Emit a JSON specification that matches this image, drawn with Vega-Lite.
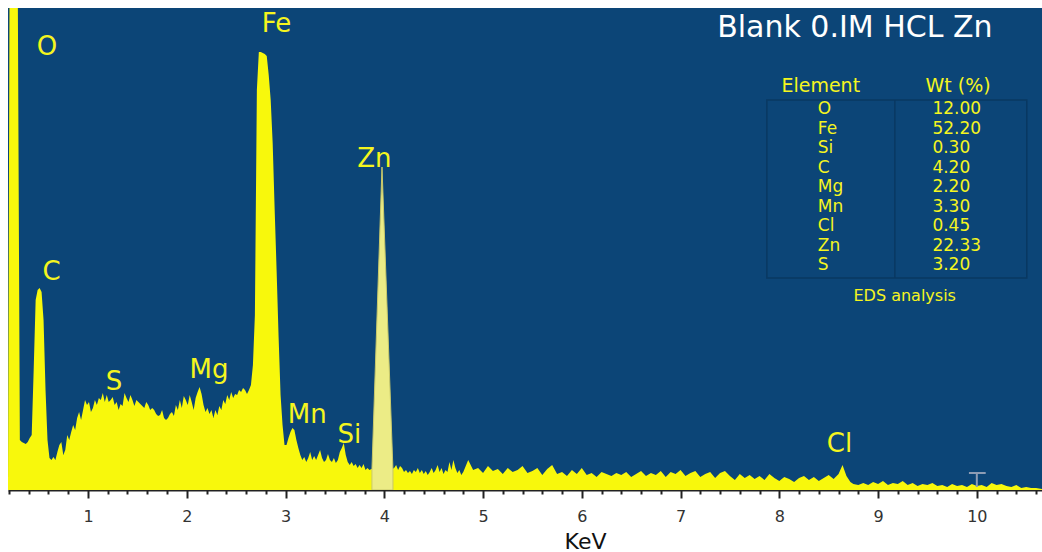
{
  "$schema": "https://vega.github.io/schema/vega-lite/v6.json",
  "width": 1034,
  "height": 482,
  "autosize": {"type": "none"},
  "padding": {"left": 8, "top": 8, "right": 0, "bottom": 62},
  "background": "#ffffff",
  "config": {"view": {"fill": "#0c4577", "stroke": null}},
  "datasets": {
    "spectrum": [
      {"kev": 0.19, "counts": 4}, {"kev": 0.205, "counts": 482}, {"kev": 0.29, "counts": 482}, {"kev": 0.31, "counts": 50},
      {"kev": 0.33, "counts": 48}, {"kev": 0.35, "counts": 47}, {"kev": 0.37, "counts": 46}, {"kev": 0.39, "counts": 48},
      {"kev": 0.41, "counts": 52}, {"kev": 0.43, "counts": 55}, {"kev": 0.45, "counts": 120}, {"kev": 0.47, "counts": 190},
      {"kev": 0.49, "counts": 200}, {"kev": 0.51, "counts": 202}, {"kev": 0.53, "counts": 198}, {"kev": 0.55, "counts": 170},
      {"kev": 0.57, "counts": 100}, {"kev": 0.59, "counts": 50}, {"kev": 0.61, "counts": 32}, {"kev": 0.63, "counts": 30},
      {"kev": 0.65, "counts": 33}, {"kev": 0.67, "counts": 30}, {"kev": 0.69, "counts": 38}, {"kev": 0.71, "counts": 45},
      {"kev": 0.73, "counts": 48}, {"kev": 0.75, "counts": 35}, {"kev": 0.77, "counts": 40}, {"kev": 0.79, "counts": 55},
      {"kev": 0.81, "counts": 50}, {"kev": 0.83, "counts": 58}, {"kev": 0.85, "counts": 65}, {"kev": 0.87, "counts": 60},
      {"kev": 0.89, "counts": 72}, {"kev": 0.91, "counts": 78}, {"kev": 0.93, "counts": 70}, {"kev": 0.95, "counts": 80},
      {"kev": 0.97, "counts": 90}, {"kev": 0.99, "counts": 85}, {"kev": 1.01, "counts": 88}, {"kev": 1.03, "counts": 78},
      {"kev": 1.05, "counts": 82}, {"kev": 1.07, "counts": 90}, {"kev": 1.09, "counts": 85}, {"kev": 1.11, "counts": 92},
      {"kev": 1.13, "counts": 90}, {"kev": 1.15, "counts": 97}, {"kev": 1.17, "counts": 88}, {"kev": 1.19, "counts": 95},
      {"kev": 1.21, "counts": 88}, {"kev": 1.23, "counts": 90}, {"kev": 1.25, "counts": 93}, {"kev": 1.27, "counts": 85},
      {"kev": 1.29, "counts": 88}, {"kev": 1.31, "counts": 80}, {"kev": 1.33, "counts": 86}, {"kev": 1.35, "counts": 84},
      {"kev": 1.37, "counts": 97}, {"kev": 1.39, "counts": 92}, {"kev": 1.41, "counts": 88}, {"kev": 1.43, "counts": 95},
      {"kev": 1.45, "counts": 90}, {"kev": 1.47, "counts": 84}, {"kev": 1.49, "counts": 90}, {"kev": 1.51, "counts": 88},
      {"kev": 1.53, "counts": 86}, {"kev": 1.55, "counts": 84}, {"kev": 1.57, "counts": 82}, {"kev": 1.59, "counts": 88},
      {"kev": 1.61, "counts": 85}, {"kev": 1.63, "counts": 80}, {"kev": 1.65, "counts": 82}, {"kev": 1.67, "counts": 80},
      {"kev": 1.69, "counts": 76}, {"kev": 1.71, "counts": 74}, {"kev": 1.73, "counts": 75}, {"kev": 1.75, "counts": 80},
      {"kev": 1.77, "counts": 72}, {"kev": 1.79, "counts": 70}, {"kev": 1.81, "counts": 72}, {"kev": 1.83, "counts": 76},
      {"kev": 1.85, "counts": 78}, {"kev": 1.87, "counts": 74}, {"kev": 1.89, "counts": 85}, {"kev": 1.91, "counts": 80},
      {"kev": 1.93, "counts": 90}, {"kev": 1.95, "counts": 82}, {"kev": 1.97, "counts": 94}, {"kev": 1.99, "counts": 90},
      {"kev": 2.01, "counts": 85}, {"kev": 2.03, "counts": 95}, {"kev": 2.05, "counts": 88}, {"kev": 2.07, "counts": 80},
      {"kev": 2.09, "counts": 92}, {"kev": 2.11, "counts": 98}, {"kev": 2.13, "counts": 103}, {"kev": 2.15, "counts": 96},
      {"kev": 2.17, "counts": 85}, {"kev": 2.19, "counts": 78}, {"kev": 2.21, "counts": 82}, {"kev": 2.23, "counts": 76},
      {"kev": 2.25, "counts": 80}, {"kev": 2.27, "counts": 72}, {"kev": 2.29, "counts": 80}, {"kev": 2.31, "counts": 75},
      {"kev": 2.33, "counts": 84}, {"kev": 2.35, "counts": 80}, {"kev": 2.37, "counts": 90}, {"kev": 2.39, "counts": 86},
      {"kev": 2.41, "counts": 95}, {"kev": 2.43, "counts": 90}, {"kev": 2.45, "counts": 98}, {"kev": 2.47, "counts": 92},
      {"kev": 2.49, "counts": 96}, {"kev": 2.51, "counts": 95}, {"kev": 2.53, "counts": 100}, {"kev": 2.55, "counts": 98},
      {"kev": 2.57, "counts": 102}, {"kev": 2.59, "counts": 100}, {"kev": 2.61, "counts": 96}, {"kev": 2.63, "counts": 100},
      {"kev": 2.65, "counts": 105}, {"kev": 2.67, "counts": 125}, {"kev": 2.69, "counts": 175}, {"kev": 2.71, "counts": 400},
      {"kev": 2.73, "counts": 438}, {"kev": 2.75, "counts": 438}, {"kev": 2.77, "counts": 437}, {"kev": 2.79, "counts": 436},
      {"kev": 2.81, "counts": 434}, {"kev": 2.83, "counts": 415}, {"kev": 2.85, "counts": 390}, {"kev": 2.87, "counts": 347},
      {"kev": 2.89, "counts": 281}, {"kev": 2.91, "counts": 219}, {"kev": 2.93, "counts": 153}, {"kev": 2.95, "counts": 95},
      {"kev": 2.97, "counts": 65}, {"kev": 2.99, "counts": 45}, {"kev": 3.01, "counts": 45}, {"kev": 3.03, "counts": 52},
      {"kev": 3.05, "counts": 58}, {"kev": 3.07, "counts": 62}, {"kev": 3.09, "counts": 60}, {"kev": 3.11, "counts": 50},
      {"kev": 3.13, "counts": 42}, {"kev": 3.15, "counts": 35}, {"kev": 3.17, "counts": 30}, {"kev": 3.19, "counts": 33},
      {"kev": 3.21, "counts": 28}, {"kev": 3.23, "counts": 32}, {"kev": 3.25, "counts": 38}, {"kev": 3.27, "counts": 30},
      {"kev": 3.29, "counts": 34}, {"kev": 3.31, "counts": 30}, {"kev": 3.33, "counts": 35}, {"kev": 3.35, "counts": 40},
      {"kev": 3.37, "counts": 32}, {"kev": 3.39, "counts": 28}, {"kev": 3.41, "counts": 30}, {"kev": 3.43, "counts": 36},
      {"kev": 3.45, "counts": 30}, {"kev": 3.47, "counts": 28}, {"kev": 3.49, "counts": 32}, {"kev": 3.51, "counts": 27},
      {"kev": 3.53, "counts": 30}, {"kev": 3.55, "counts": 38}, {"kev": 3.57, "counts": 42}, {"kev": 3.59, "counts": 47},
      {"kev": 3.61, "counts": 35}, {"kev": 3.63, "counts": 28}, {"kev": 3.65, "counts": 25}, {"kev": 3.67, "counts": 28},
      {"kev": 3.69, "counts": 24}, {"kev": 3.71, "counts": 26}, {"kev": 3.73, "counts": 22}, {"kev": 3.75, "counts": 25},
      {"kev": 3.77, "counts": 22}, {"kev": 3.79, "counts": 26}, {"kev": 3.81, "counts": 20}, {"kev": 3.83, "counts": 22},
      {"kev": 3.85, "counts": 20}, {"kev": 3.87, "counts": 21}, {"kev": 3.95, "counts": 20}, {"kev": 4.05, "counts": 19},
      {"kev": 4.1, "counts": 22}, {"kev": 4.12, "counts": 25}, {"kev": 4.14, "counts": 20}, {"kev": 4.16, "counts": 24},
      {"kev": 4.18, "counts": 22}, {"kev": 4.2, "counts": 18}, {"kev": 4.22, "counts": 20}, {"kev": 4.24, "counts": 17},
      {"kev": 4.26, "counts": 19}, {"kev": 4.28, "counts": 16}, {"kev": 4.3, "counts": 20}, {"kev": 4.32, "counts": 18},
      {"kev": 4.34, "counts": 22}, {"kev": 4.36, "counts": 17}, {"kev": 4.38, "counts": 20}, {"kev": 4.4, "counts": 16},
      {"kev": 4.42, "counts": 19}, {"kev": 4.44, "counts": 15}, {"kev": 4.46, "counts": 18}, {"kev": 4.48, "counts": 22},
      {"kev": 4.5, "counts": 17}, {"kev": 4.52, "counts": 20}, {"kev": 4.54, "counts": 25}, {"kev": 4.56, "counts": 18},
      {"kev": 4.58, "counts": 22}, {"kev": 4.6, "counts": 16}, {"kev": 4.62, "counts": 20}, {"kev": 4.64, "counts": 18},
      {"kev": 4.66, "counts": 28}, {"kev": 4.68, "counts": 20}, {"kev": 4.7, "counts": 30}, {"kev": 4.72, "counts": 22},
      {"kev": 4.74, "counts": 17}, {"kev": 4.76, "counts": 20}, {"kev": 4.78, "counts": 15}, {"kev": 4.8, "counts": 18},
      {"kev": 4.85, "counts": 30}, {"kev": 4.9, "counts": 20}, {"kev": 4.95, "counts": 22}, {"kev": 5.0, "counts": 17},
      {"kev": 5.05, "counts": 24}, {"kev": 5.1, "counts": 19}, {"kev": 5.15, "counts": 21}, {"kev": 5.2, "counts": 16},
      {"kev": 5.25, "counts": 22}, {"kev": 5.3, "counts": 18}, {"kev": 5.35, "counts": 20}, {"kev": 5.4, "counts": 24},
      {"kev": 5.45, "counts": 17}, {"kev": 5.5, "counts": 19}, {"kev": 5.55, "counts": 22}, {"kev": 5.6, "counts": 15},
      {"kev": 5.65, "counts": 21}, {"kev": 5.7, "counts": 25}, {"kev": 5.75, "counts": 16}, {"kev": 5.8, "counts": 18},
      {"kev": 5.85, "counts": 14}, {"kev": 5.9, "counts": 20}, {"kev": 5.95, "counts": 16}, {"kev": 6.0, "counts": 22},
      {"kev": 6.05, "counts": 15}, {"kev": 6.1, "counts": 17}, {"kev": 6.15, "counts": 13}, {"kev": 6.2, "counts": 18},
      {"kev": 6.25, "counts": 16}, {"kev": 6.3, "counts": 14}, {"kev": 6.35, "counts": 17}, {"kev": 6.4, "counts": 15},
      {"kev": 6.45, "counts": 18}, {"kev": 6.5, "counts": 13}, {"kev": 6.55, "counts": 16}, {"kev": 6.6, "counts": 19},
      {"kev": 6.65, "counts": 14}, {"kev": 6.7, "counts": 17}, {"kev": 6.75, "counts": 15}, {"kev": 6.8, "counts": 19},
      {"kev": 6.85, "counts": 13}, {"kev": 6.9, "counts": 18}, {"kev": 6.95, "counts": 16}, {"kev": 7.0, "counts": 20},
      {"kev": 7.05, "counts": 14}, {"kev": 7.1, "counts": 17}, {"kev": 7.15, "counts": 19}, {"kev": 7.2, "counts": 13},
      {"kev": 7.25, "counts": 16}, {"kev": 7.3, "counts": 18}, {"kev": 7.35, "counts": 12}, {"kev": 7.4, "counts": 17},
      {"kev": 7.45, "counts": 19}, {"kev": 7.5, "counts": 14}, {"kev": 7.55, "counts": 10}, {"kev": 7.6, "counts": 16},
      {"kev": 7.65, "counts": 12}, {"kev": 7.7, "counts": 15}, {"kev": 7.75, "counts": 11}, {"kev": 7.8, "counts": 14},
      {"kev": 7.85, "counts": 10}, {"kev": 7.9, "counts": 16}, {"kev": 7.95, "counts": 12}, {"kev": 8.0, "counts": 9},
      {"kev": 8.05, "counts": 13}, {"kev": 8.1, "counts": 11}, {"kev": 8.15, "counts": 8}, {"kev": 8.2, "counts": 12},
      {"kev": 8.25, "counts": 14}, {"kev": 8.3, "counts": 10}, {"kev": 8.35, "counts": 13}, {"kev": 8.4, "counts": 9},
      {"kev": 8.45, "counts": 12}, {"kev": 8.5, "counts": 15}, {"kev": 8.55, "counts": 11}, {"kev": 8.6, "counts": 16},
      {"kev": 8.64, "counts": 25}, {"kev": 8.68, "counts": 14}, {"kev": 8.72, "counts": 8}, {"kev": 8.75, "counts": 6},
      {"kev": 8.8, "counts": 5}, {"kev": 8.85, "counts": 7}, {"kev": 8.9, "counts": 5}, {"kev": 8.95, "counts": 8},
      {"kev": 9.0, "counts": 6}, {"kev": 9.05, "counts": 9}, {"kev": 9.1, "counts": 5}, {"kev": 9.15, "counts": 7},
      {"kev": 9.2, "counts": 6}, {"kev": 9.25, "counts": 9}, {"kev": 9.3, "counts": 5}, {"kev": 9.35, "counts": 7},
      {"kev": 9.4, "counts": 4}, {"kev": 9.45, "counts": 6}, {"kev": 9.5, "counts": 5}, {"kev": 9.55, "counts": 7},
      {"kev": 9.6, "counts": 4}, {"kev": 9.65, "counts": 5}, {"kev": 9.7, "counts": 3}, {"kev": 9.75, "counts": 6},
      {"kev": 9.8, "counts": 4}, {"kev": 9.85, "counts": 5}, {"kev": 9.9, "counts": 3}, {"kev": 9.95, "counts": 6},
      {"kev": 10.0, "counts": 4}, {"kev": 10.05, "counts": 5}, {"kev": 10.1, "counts": 3}, {"kev": 10.15, "counts": 7},
      {"kev": 10.2, "counts": 5}, {"kev": 10.25, "counts": 6}, {"kev": 10.3, "counts": 4}, {"kev": 10.35, "counts": 3},
      {"kev": 10.4, "counts": 5}, {"kev": 10.45, "counts": 2}, {"kev": 10.5, "counts": 3}, {"kev": 10.55, "counts": 2},
      {"kev": 10.6, "counts": 2}, {"kev": 10.66, "counts": 1}
    ],
    "znpeak": [
      {"kev": 3.875, "counts": 20}, {"kev": 3.977, "counts": 323}, {"kev": 4.088, "counts": 20}
    ],
    "labels": [
      {"kev": 0.585, "counts": 435, "label": "O"},
      {"kev": 2.908, "counts": 458, "label": "Fe"},
      {"kev": 3.9, "counts": 323, "label": "Zn"},
      {"kev": 0.631, "counts": 210, "label": "C"},
      {"kev": 1.264, "counts": 100, "label": "S"},
      {"kev": 2.225, "counts": 112, "label": "Mg"},
      {"kev": 3.22, "counts": 67, "label": "Mn"},
      {"kev": 3.647, "counts": 47, "label": "Si"},
      {"kev": 8.61, "counts": 38, "label": "Cl"}
    ],
    "title": [{"kev": 8.765, "counts": 453, "label": "Blank 0.IM HCL Zn"}],
    "header": [
      {"kev": 8.42, "counts": 398, "label": "Element"},
      {"kev": 9.81, "counts": 398, "label": "Wt (%)"}
    ],
    "table": [
      {"kev": 8.39, "counts": 376, "label": "O"},
      {"kev": 8.39, "counts": 356.5, "label": "Fe"},
      {"kev": 8.39, "counts": 337, "label": "Si"},
      {"kev": 8.39, "counts": 317.5, "label": "C"},
      {"kev": 8.39, "counts": 298, "label": "Mg"},
      {"kev": 8.39, "counts": 278.5, "label": "Mn"},
      {"kev": 8.39, "counts": 259, "label": "Cl"},
      {"kev": 8.39, "counts": 239.5, "label": "Zn"},
      {"kev": 8.39, "counts": 220, "label": "S"},
      {"kev": 9.55, "counts": 376, "label": "12.00"},
      {"kev": 9.55, "counts": 356.5, "label": "52.20"},
      {"kev": 9.55, "counts": 337, "label": "0.30"},
      {"kev": 9.55, "counts": 317.5, "label": "4.20"},
      {"kev": 9.55, "counts": 298, "label": "2.20"},
      {"kev": 9.55, "counts": 278.5, "label": "3.30"},
      {"kev": 9.55, "counts": 259, "label": "0.45"},
      {"kev": 9.55, "counts": 239.5, "label": "22.33"},
      {"kev": 9.55, "counts": 220, "label": "3.20"}
    ],
    "caption": [{"kev": 9.27, "counts": 189, "label": "EDS analysis"}],
    "box": [{"kev": 7.874, "kev2": 10.506, "counts": 390, "counts2": 212}],
    "divider": [{"kev": 9.17, "counts": 390, "counts2": 212}],
    "marker": [{"kev": 10.0, "counts": 3, "counts2": 17}],
    "markercap": [{"kev": 9.92, "kev2": 10.09, "counts": 17}]
  },
  "encoding": {
    "x": {
      "field": "kev",
      "type": "quantitative",
      "scale": {"domain": [0.19, 10.66], "nice": false, "zero": false},
      "axis": {
        "title": "KeV",
        "values": [0.2,0.4,0.6,0.8,1,1.2,1.4,1.6,1.8,2,2.2,2.4,2.6,2.8,3,3.2,3.4,3.6,3.8,4,4.2,4.4,4.6,4.8,5,5.2,5.4,5.6,5.8,6,6.2,6.4,6.6,6.8,7,7.2,7.4,7.6,7.8,8,8.2,8.4,8.6,8.8,9,9.2,9.4,9.6,9.8,10,10.2,10.4,10.6],
        "labelExpr": "datum.value % 1 === 0 ? format(datum.value, 'd') : ''",
        "labelOverlap": false,
        "labelFlush": false,
        "labelBound": false,
        "grid": false,
        "domainColor": "#222222",
        "domainWidth": 2,
        "tickColor": "#222222",
        "tickWidth": 2,
        "tickSize": {"condition": {"test": "datum.value % 1 === 0", "value": 8}, "value": 4},
        "labelColor": "#333333",
        "labelFont": "DejaVu Sans",
        "labelFontSize": 16,
        "labelPadding": 10,
        "titleFont": "DejaVu Sans",
        "titleFontSize": 22,
        "titleFontWeight": "normal",
        "titleColor": "#111111",
        "titleX": 577,
        "titleY": 58,
        "titleBaseline": "alphabetic"
      }
    },
    "y": {
      "field": "counts",
      "type": "quantitative",
      "scale": {"domain": [0, 482], "nice": false, "zero": false},
      "axis": null
    }
  },
  "layer": [
    {"data": {"name": "spectrum"}, "mark": {"type": "area", "color": "#f8f80c", "interpolate": "linear", "clip": true}},
    {"data": {"name": "znpeak"}, "mark": {"type": "area", "color": "#ecec86", "stroke": "#c9c96a", "strokeWidth": 1, "clip": true}},
    {"data": {"name": "marker"}, "mark": {"type": "rule", "color": "#8d9cb4", "strokeWidth": 2}, "encoding": {"y2": {"field": "counts2"}}},
    {"data": {"name": "markercap"}, "mark": {"type": "rule", "color": "#8d9cb4", "strokeWidth": 2}, "encoding": {"x2": {"field": "kev2"}}},
    {"data": {"name": "box"}, "mark": {"type": "rect", "fill": null, "fillOpacity": 0, "stroke": "#093862", "strokeWidth": 1.5}, "encoding": {"x2": {"field": "kev2"}, "y2": {"field": "counts2"}}},
    {"data": {"name": "divider"}, "mark": {"type": "rule", "color": "#093862", "strokeWidth": 1.5}, "encoding": {"y2": {"field": "counts2"}}},
    {"data": {"name": "labels"}, "mark": {"type": "text", "font": "DejaVu Sans", "fontSize": 26, "color": "#f5f51e", "align": "center", "baseline": "alphabetic"}, "encoding": {"text": {"field": "label"}}},
    {"data": {"name": "title"}, "mark": {"type": "text", "font": "DejaVu Sans", "fontSize": 30, "color": "#ffffff", "align": "center", "baseline": "alphabetic"}, "encoding": {"text": {"field": "label"}}},
    {"data": {"name": "header"}, "mark": {"type": "text", "font": "DejaVu Sans", "fontSize": 19, "color": "#f5f51e", "align": "center", "baseline": "alphabetic"}, "encoding": {"text": {"field": "label"}}},
    {"data": {"name": "table"}, "mark": {"type": "text", "font": "DejaVu Sans", "fontSize": 17, "color": "#f5f51e", "align": "left", "baseline": "alphabetic"}, "encoding": {"text": {"field": "label"}}},
    {"data": {"name": "caption"}, "mark": {"type": "text", "font": "DejaVu Sans", "fontSize": 16, "color": "#f5f51e", "align": "center", "baseline": "alphabetic"}, "encoding": {"text": {"field": "label"}}}
  ]
}
